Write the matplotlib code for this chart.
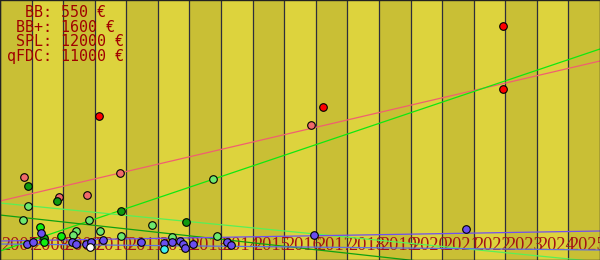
import numpy as np
import matplotlib.pyplot as plt

# years shown on the axis
years = list(range(2007, 2026))

# legend lines (price per grade)
legend_lines = ["  BB: 550 €", " BB+: 1600 €", " SPL: 12000 €", "qFDC: 11000 €"]

# sales: decimal year and price in euros, one group per colour
red_x = [2010.13, 2017.23, 2022.93, 2022.93]
red_y = [7200, 7650, 11700, 8550]

salmon_x = [2007.76, 2008.87, 2009.75, 2010.80, 2016.85]
salmon_y = [4150, 3150, 3250, 4350, 6750]

darkgreen_x = [2007.89, 2008.80, 2010.83, 2012.89, 2008.39]
darkgreen_y = [3700, 2950, 2450, 1900, 1100]

lightgreen_x = [2007.89, 2007.73, 2009.82, 2009.41, 2009.31, 2010.17, 2010.83,
                2011.81, 2012.45, 2013.75, 2013.87]
lightgreen_y = [2700, 2000, 2000, 1450, 1250, 1450, 1200, 1750, 1150, 4050, 1200]

green_x = [2008.27, 2008.39, 2008.93]
green_y = [1650, 900, 1200]

purple_x = [2008.30, 2007.86, 2008.04, 2009.28, 2009.41, 2009.72, 2009.88, 2010.26,
            2011.47, 2012.19, 2012.45, 2012.70, 2012.80, 2012.86, 2013.11, 2014.19,
            2014.32, 2016.94, 2021.76]
purple_y = [1350, 800, 900, 900, 800, 800, 900, 1000, 900, 850, 900, 950, 800, 600,
            800, 900, 750, 1250, 1550]

cyan_x = [2012.19]
cyan_y = [550]

white_x = [2009.85]
white_y = [650]

# trend lines (value at start and end of the axis)
trend_x = [2007, 2026]
trend_red = [2950, 9950]
trend_green = [450, 10550]
trend_lightgreen = [2850, -100]
trend_darkgreen = [2250, -1050]
trend_purple = [950, 1450]
trend_blue = [800, 500]

fig = plt.figure(figsize=(6, 2.6), dpi=100)
ax = fig.add_axes([0, 0, 1, 1])
ax.set_xlim(2007, 2026)
ax.set_ylim(0, 13000)

# alternating year stripes
for i, yr in enumerate(years):
    col = '#c9bf35' if i % 2 == 0 else '#ddd33d'
    ax.axvspan(yr, yr + 1, color=col, lw=0, zorder=0)
    ax.axvline(yr, color='#2e2e3c', lw=0.9, zorder=0.5)
    ax.text(yr + 0.03, 480, str(yr), family='Liberation Serif', fontsize=13.2,
            color='#a31515', ha='left', va='baseline', zorder=1)

# trend lines
ax.plot(trend_x, trend_red, color='#f06070', lw=0.9, zorder=2)
ax.plot(trend_x, trend_green, color='#10e810', lw=0.9, zorder=2)
ax.plot(trend_x, trend_lightgreen, color='#58f058', lw=0.9, zorder=2)
ax.plot(trend_x, trend_darkgreen, color='#10a010', lw=0.9, zorder=2)
ax.plot(trend_x, trend_purple, color='#7050f0', lw=0.9, zorder=2)
ax.plot(trend_x, trend_blue, color='#6070e0', lw=0.9, zorder=2)

# sales
groups = [
    (salmon_x, salmon_y, '#f06a6a'),
    (darkgreen_x, darkgreen_y, '#109a10'),
    (lightgreen_x, lightgreen_y, '#6ee86e'),
    (green_x, green_y, '#10ee10'),
    (purple_x, purple_y, '#6a4ef0'),
    (cyan_x, cyan_y, '#40f0f0'),
    (white_x, white_y, '#ffffff'),
    (red_x, red_y, '#ff0000'),
]
for gx, gy, c in groups:
    ax.scatter(gx, gy, s=30, color=c, edgecolors='black', linewidths=0.8, zorder=3)

# price legend
for i, line in enumerate(legend_lines):
    ax.text(7 / 600, 1 - (17 + i * 14.6) / 260, line, transform=ax.transAxes,
            family='DejaVu Sans Mono', fontsize=10.8, color='#a00000',
            ha='left', va='baseline', zorder=4)

ax.set_xticks([])
ax.set_yticks([])
for s in ax.spines.values():
    s.set_color('#222222')
    s.set_linewidth(1)

fig.savefig('out.png', dpi=100)
